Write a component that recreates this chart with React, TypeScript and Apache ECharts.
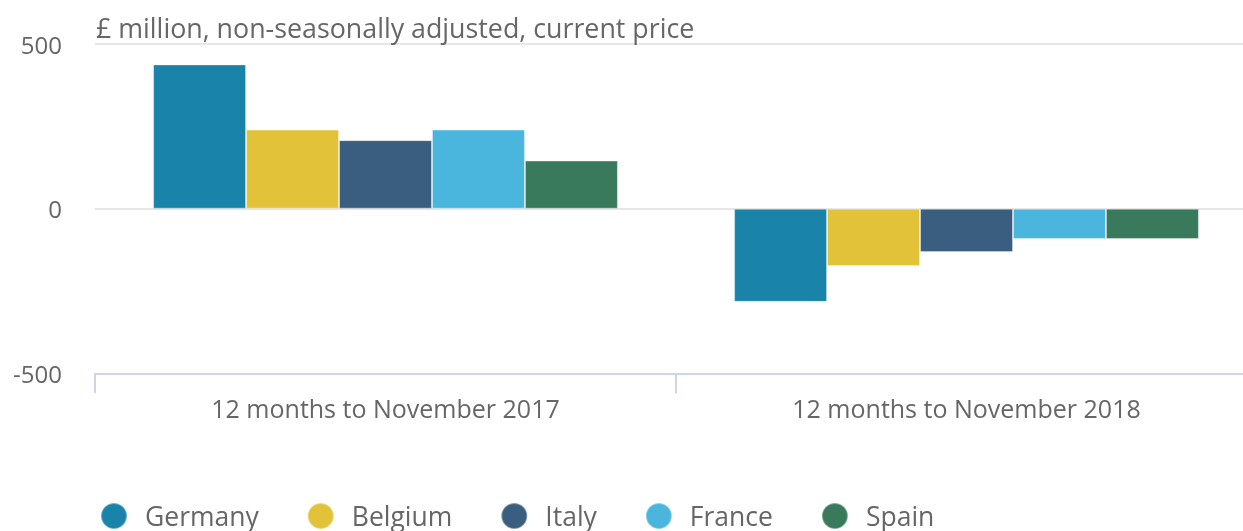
import React, { useEffect, useRef } from "react";
import * as echarts from "echarts";

const categories = ["12 months to November 2017", "12 months to November 2018"];
const countries = ["Germany", "Belgium", "Italy", "France", "Spain"];
const germany = [438, -283];
const belgium = [240, -174];
const italy = [208, -132];
const france = [240, -92];
const spain = [146, -92];
const colors = ["#1a83aa", "#e2c238", "#3a5e7f", "#4ab5dd", "#3a7a5c"];
const subtitle = "£ million, non-seasonally adjusted, current price";

const FONT = "'Open Sans', 'Noto Sans', sans-serif";

export default function App() {
  const ref = useRef<HTMLDivElement>(null);
  useEffect(() => {
    if (!ref.current) return;
    const chart = echarts.init(ref.current, undefined, { renderer: "svg" });
    const values = [germany, belgium, italy, france, spain];
    chart.setOption({
      animation: false,
      title: {
        text: subtitle,
        left: 91,
        top: 9,
        textStyle: { fontFamily: FONT, fontSize: 26.8, fontWeight: "normal", color: "#666666" },
      },
      legend: {
        data: countries,
        left: 100,
        top: 502,
        padding: 0,
        icon: "circle",
        itemWidth: 26,
        itemHeight: 26,
        itemGap: 48,
        textStyle: { fontFamily: FONT, fontSize: 26.5, color: "#666666", padding: [2, 0, 0, 13] },
      },
      grid: { left: 95, right: 5, top: 44, bottom: 157.7, containLabel: false },
      xAxis: {
        type: "category",
        data: categories,
        axisLine: { show: true, onZero: false, lineStyle: { color: "#ccd6eb", width: 2 } },
        axisTick: { show: true, length: 20, lineStyle: { color: "#ccd6eb", width: 2 } },
        axisLabel: { fontFamily: FONT, fontSize: 25, color: "#666666", margin: 22 },
      },
      yAxis: {
        type: "value",
        min: -500,
        max: 500,
        interval: 500,
        axisLine: { show: false },
        axisTick: { show: false },
        axisLabel: { fontFamily: FONT, fontSize: 24, color: "#666666", margin: 33 },
        splitLine: { lineStyle: { color: "#e6e6e6", width: 2 } },
      },
      series: countries.map((name, i) => ({
        name,
        type: "bar",
        data: values[i],
        barGap: "0%",
        barCategoryGap: "20%",
        itemStyle: { color: colors[i], borderColor: "rgba(255,255,255,0.35)", borderWidth: 1 },
      })),
    });
    return () => chart.dispose();
  }, []);
  return (
    <div
      ref={ref}
      style={{ position: "fixed", left: 0, top: 0, width: 1262, height: 531 }}
    />
  );
}
